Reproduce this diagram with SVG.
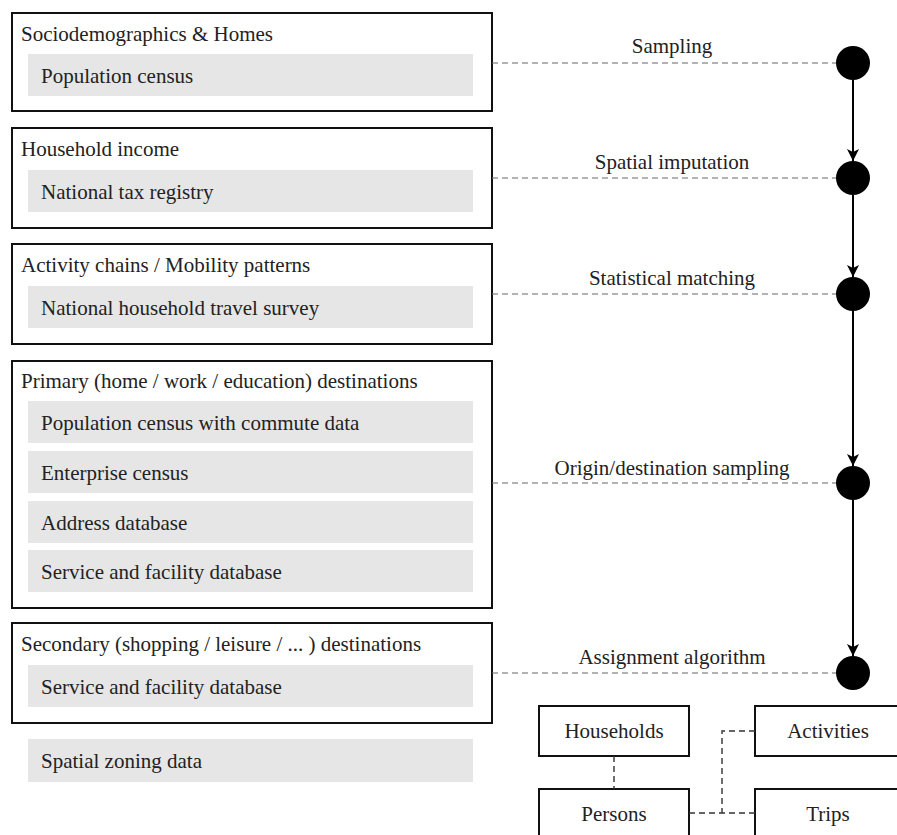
<svg xmlns="http://www.w3.org/2000/svg" width="897" height="835" viewBox="0 0 897 835">
<style>
text{font-family:"Liberation Serif","Times New Roman",serif;font-size:21px;fill:#222}
.box{fill:#fff;stroke:#111;stroke-width:2}
.src{fill:#e6e6e6;stroke:none}
.dash{fill:none;stroke:#666;stroke-width:1.2;stroke-dasharray:6 4}
.dash2{fill:none;stroke:#333;stroke-width:1.4;stroke-dasharray:6 4}
.flow{fill:none;stroke:#000;stroke-width:2}
.dot{fill:#000}
.lbl{text-anchor:middle}
</style>
<defs>
<marker id="ah" markerUnits="userSpaceOnUse" markerWidth="14" markerHeight="12" refX="12" refY="6" orient="auto" viewBox="0 0 14 12">
<path d="M0,0 L12,6 L0,12 L3,6 Z" fill="#000"/>
</marker>
</defs>
<rect width="897" height="835" fill="#fff"/>

<g id="box-sociodemographics">
<rect class="box" x="12" y="13" width="480" height="98"/>
<text x="21" y="41">Sociodemographics &amp; Homes</text>
<rect class="src" x="28" y="54" width="445" height="42"/>
<text x="41" y="83">Population census</text>
</g>

<g id="box-income">
<rect class="box" x="12" y="128" width="480" height="100"/>
<text x="21" y="156">Household income</text>
<rect class="src" x="28" y="170" width="445" height="42"/>
<text x="41" y="199">National tax registry</text>
</g>

<g id="box-activity">
<rect class="box" x="12" y="244" width="480" height="100"/>
<text x="21" y="272">Activity chains / Mobility patterns</text>
<rect class="src" x="28" y="286" width="445" height="42"/>
<text x="41" y="315">National household travel survey</text>
</g>

<g id="box-primary">
<rect class="box" x="12" y="361" width="480" height="247"/>
<text x="21" y="388">Primary (home / work / education) destinations</text>
<rect class="src" x="28" y="401" width="445" height="42"/>
<text x="41" y="430">Population census with commute data</text>
<rect class="src" x="28" y="451" width="445" height="42"/>
<text x="41" y="480">Enterprise census</text>
<rect class="src" x="28" y="501" width="445" height="42"/>
<text x="41" y="530">Address database</text>
<rect class="src" x="28" y="550" width="445" height="42"/>
<text x="41" y="579">Service and facility database</text>
</g>

<g id="box-secondary">
<rect class="box" x="12" y="623" width="480" height="100"/>
<text x="21" y="651">Secondary (shopping / leisure / ... ) destinations</text>
<rect class="src" x="28" y="665" width="445" height="42"/>
<text x="41" y="694">Service and facility database</text>
</g>

<g id="src-zoning">
<rect class="src" x="28" y="739" width="445" height="43"/>
<text x="41" y="768">Spatial zoning data</text>
</g>

<g id="step-sampling"><circle class="dot" cx="853" cy="63" r="17"/></g>
<g id="step-imputation"><circle class="dot" cx="853" cy="178" r="17"/></g>
<g id="step-matching"><circle class="dot" cx="853" cy="294" r="17"/></g>
<g id="step-od"><circle class="dot" cx="853" cy="483" r="17"/></g>
<g id="step-assignment"><circle class="dot" cx="853" cy="673" r="17"/></g>

<g id="households"><rect class="box" x="539" y="706" width="150" height="50"/><text class="lbl" x="614" y="738">Households</text></g>
<g id="activities"><rect class="box" x="755" y="706" width="150" height="50"/><text class="lbl" x="828" y="738">Activities</text></g>
<g id="persons"><rect class="box" x="539" y="789" width="150" height="52"/><text class="lbl" x="614" y="821">Persons</text></g>
<g id="trips"><rect class="box" x="755" y="789" width="150" height="52"/><text class="lbl" x="828" y="821">Trips</text></g>

<g id="connectors">
<line class="dash" x1="492" y1="63" x2="836" y2="63"/>
<line class="dash" x1="492" y1="178" x2="836" y2="178"/>
<line class="dash" x1="492" y1="294" x2="836" y2="294"/>
<line class="dash" x1="492" y1="483" x2="836" y2="483"/>
<line class="dash" x1="492" y1="673" x2="836" y2="673"/>
<text class="lbl" x="672" y="53">Sampling</text>
<text class="lbl" x="672" y="169">Spatial imputation</text>
<text class="lbl" x="672" y="285">Statistical matching</text>
<text class="lbl" x="672" y="475">Origin/destination sampling</text>
<text class="lbl" x="672" y="664">Assignment algorithm</text>
<line class="flow" x1="853" y1="80" x2="853" y2="161" marker-end="url(#ah)"/>
<line class="flow" x1="853" y1="195" x2="853" y2="277" marker-end="url(#ah)"/>
<line class="flow" x1="853" y1="311" x2="853" y2="466" marker-end="url(#ah)"/>
<line class="flow" x1="853" y1="500" x2="853" y2="656" marker-end="url(#ah)"/>
<line class="dash2" x1="614" y1="756" x2="614" y2="789"/>
<line class="dash2" x1="689" y1="813" x2="755" y2="813"/>
<polyline class="dash2" points="755,731 722,731 722,813"/>
</g>
</svg>
